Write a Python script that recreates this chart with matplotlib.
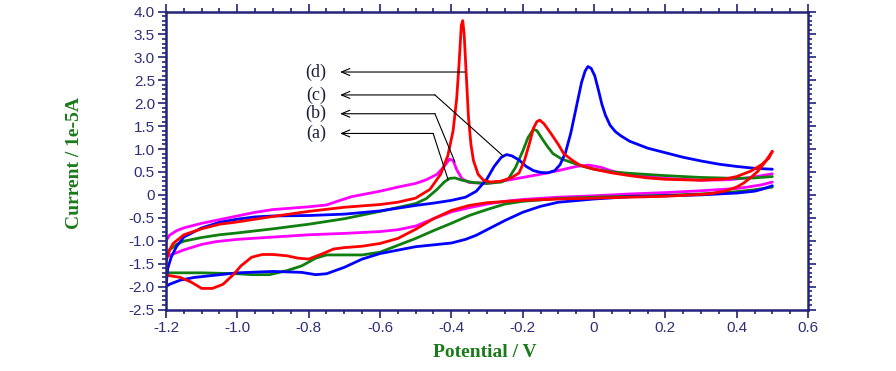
import numpy as np
import matplotlib
matplotlib.use("Agg")
import matplotlib.pyplot as plt
from matplotlib.ticker import MultipleLocator, FuncFormatter

# ---------------------------------------------------------------
# cyclic voltammograms, current in units of 1e-5 A
# each curve: forward (anodic) scan, then reverse (cathodic) scan
# ---------------------------------------------------------------

blue_fwd_v = [-1.2, -1.195, -1.185, -1.17, -1.15, -1.1, -1.05, -1.0, -0.95, -0.9, -0.8, -0.7,
              -0.6, -0.5, -0.45, -0.4, -0.36, -0.33, -0.3, -0.28, -0.26, -0.245, -0.23, -0.21,
              -0.19, -0.17, -0.15, -0.13, -0.11, -0.095, -0.08, -0.065, -0.05, -0.035, -0.025,
              -0.017, -0.008, 0.002, 0.012, 0.022, 0.032, 0.045, 0.06, 0.075, 0.1, 0.15, 0.2,
              0.25, 0.3, 0.35, 0.4, 0.45, 0.5]
blue_fwd_i = [-2.0, -1.6, -1.35, -1.12, -0.92, -0.72, -0.6, -0.53, -0.48, -0.46, -0.45, -0.42,
              -0.35, -0.23, -0.18, -0.12, -0.05, 0.08, 0.35, 0.62, 0.82, 0.88, 0.85, 0.76,
              0.62, 0.53, 0.49, 0.48, 0.53, 0.66, 0.92, 1.35, 1.9, 2.45, 2.7,
              2.8, 2.76, 2.6, 2.3, 1.98, 1.74, 1.52, 1.38, 1.29, 1.17, 1.02, 0.92,
              0.82, 0.74, 0.67, 0.62, 0.58, 0.56]
blue_rev_v = [0.5, 0.47, 0.45, 0.4, 0.3, 0.2, 0.1, 0.0, -0.1, -0.15, -0.2, -0.25, -0.28, -0.3,
              -0.33, -0.36, -0.4, -0.5, -0.6, -0.65, -0.7, -0.75, -0.78, -0.82, -0.9, -1.0,
              -1.06, -1.12, -1.16, -1.19, -1.2]
blue_rev_i = [0.2, 0.12, 0.08, 0.04, 0.0, -0.02, -0.04, -0.09, -0.16, -0.25, -0.38, -0.56, -0.68, -0.76,
              -0.88, -0.97, -1.05, -1.13, -1.28, -1.4, -1.58, -1.72, -1.74, -1.69, -1.67, -1.7,
              -1.75, -1.8, -1.86, -1.95, -2.0]

green_fwd_v = [-1.2, -1.2, -1.19, -1.17, -1.15, -1.1, -1.05, -1.0, -0.9, -0.8, -0.7, -0.6, -0.5,
               -0.47, -0.44, -0.42, -0.405, -0.39, -0.37, -0.34, -0.3, -0.26, -0.24, -0.22, -0.2,
               -0.185, -0.17, -0.16, -0.145, -0.13, -0.115, -0.09, -0.06, -0.03, 0.0, 0.05, 0.1,
               0.2, 0.3, 0.4, 0.45, 0.5]
green_fwd_i = [-1.7, -1.4, -1.2, -1.08, -1.01, -0.93, -0.87, -0.83, -0.74, -0.64, -0.52, -0.36, -0.19,
               -0.08, 0.12, 0.28, 0.36, 0.37, 0.32, 0.27, 0.25, 0.28, 0.35, 0.6, 0.95,
               1.25, 1.43, 1.4, 1.22, 1.05, 0.9, 0.78, 0.7, 0.62, 0.56, 0.5, 0.47,
               0.42, 0.38, 0.36, 0.37, 0.4]
green_rev_v = [0.5, 0.45, 0.4, 0.3, 0.2, 0.1, 0.0, -0.1, -0.15, -0.2, -0.25, -0.3, -0.35, -0.4,
               -0.45, -0.5, -0.55, -0.6, -0.65, -0.7, -0.75, -0.78, -0.82, -0.86, -0.91, -0.96,
               -1.0, -1.1, -1.2]
green_rev_i = [0.17, 0.11, 0.07, 0.02, -0.01, -0.03, -0.05, -0.08, -0.11, -0.14, -0.2, -0.32, -0.45, -0.62,
               -0.78, -0.95, -1.1, -1.25, -1.31, -1.31, -1.31, -1.38, -1.55, -1.65, -1.74, -1.74,
               -1.72, -1.7, -1.7]

red_fwd_v = [-1.2, -1.2, -1.19, -1.18, -1.15, -1.1, -1.05, -1.0, -0.95, -0.9, -0.8, -0.7, -0.6,
             -0.55, -0.5, -0.46, -0.43, -0.41, -0.395, -0.385, -0.378, -0.372, -0.368, -0.364,
             -0.358, -0.352, -0.345, -0.338, -0.325, -0.31, -0.29, -0.26, -0.23, -0.21, -0.195,
             -0.18, -0.17, -0.16, -0.152, -0.14, -0.12, -0.1, -0.085, -0.06, -0.04, 0.0, 0.05,
             0.1, 0.15, 0.2, 0.3, 0.37, 0.4, 0.44, 0.47, 0.49, 0.5]
red_fwd_i = [-1.75, -1.45, -1.2, -1.06, -0.87, -0.74, -0.64, -0.59, -0.53, -0.47, -0.36, -0.27, -0.21,
             -0.16, -0.07, 0.12, 0.45, 0.85, 1.4, 2.1, 2.9, 3.7, 3.8, 3.5,
             2.6, 1.7, 1.1, 0.75, 0.45, 0.32, 0.28, 0.3, 0.38, 0.48, 0.75,
             1.15, 1.45, 1.6, 1.63, 1.55, 1.33, 1.1, 0.9, 0.75, 0.65, 0.56, 0.48,
             0.42, 0.37, 0.34, 0.32, 0.35, 0.4, 0.52, 0.66, 0.8, 0.95]
red_rev_v = [0.5, 0.48, 0.46, 0.44, 0.42, 0.4, 0.37, 0.33, 0.3, 0.2, 0.1, 0.0, -0.1, -0.2, -0.3,
             -0.35, -0.4, -0.45, -0.5, -0.55, -0.6, -0.65, -0.7, -0.73, -0.76, -0.8, -0.83, -0.86,
             -0.9, -0.93, -0.96, -0.99, -1.01, -1.04, -1.07, -1.1, -1.13, -1.16, -1.2]
red_rev_i = [0.95, 0.72, 0.52, 0.38, 0.26, 0.17, 0.09, 0.03, 0.01, -0.03, -0.05, -0.07, -0.09, -0.12, -0.17,
             -0.23, -0.34, -0.52, -0.75, -0.95, -1.06, -1.12, -1.15, -1.18, -1.28, -1.4, -1.38, -1.33,
             -1.3, -1.3, -1.36, -1.55, -1.73, -1.95, -2.04, -2.04, -1.9, -1.8, -1.75]

magenta_fwd_v = [-1.2, -1.2, -1.19, -1.17, -1.15, -1.1, -1.05, -1.0, -0.95, -0.9, -0.8, -0.75, -0.72,
                 -0.68, -0.6, -0.55, -0.5, -0.47, -0.44, -0.42, -0.405, -0.395, -0.385, -0.37, -0.35,
                 -0.3, -0.25, -0.2, -0.15, -0.1, -0.05, -0.015, 0.02, 0.05, 0.1, 0.2, 0.3, 0.38,
                 0.44, 0.5]
magenta_fwd_i = [-1.35, -1.0, -0.88, -0.78, -0.72, -0.62, -0.54, -0.46, -0.38, -0.32, -0.26, -0.22, -0.14,
                 -0.04, 0.08, 0.17, 0.25, 0.33, 0.45, 0.62, 0.78, 0.75, 0.55, 0.35, 0.27,
                 0.25, 0.31, 0.38, 0.45, 0.53, 0.62, 0.65, 0.6, 0.52, 0.44, 0.36, 0.32, 0.33,
                 0.38, 0.46]
magenta_rev_v = [0.5, 0.47, 0.43, 0.4, 0.3, 0.2, 0.1, 0.0, -0.1, -0.2, -0.25, -0.3, -0.35, -0.4,
                 -0.45, -0.5, -0.55, -0.6, -0.7, -0.8, -0.9, -1.0, -1.06, -1.1, -1.15, -1.18, -1.2]
magenta_rev_i = [0.28, 0.22, 0.17, 0.14, 0.09, 0.05, 0.02, -0.02, -0.05, -0.1, -0.14, -0.2, -0.28, -0.37,
                 -0.52, -0.68, -0.76, -0.8, -0.84, -0.87, -0.92, -0.97, -1.02, -1.08, -1.2, -1.29, -1.35]

# curve labels with leader lines
labels = ["(d)", "(c)", "(b)", "(a)"]
label_y = [2.68, 2.18, 1.77, 1.34]
arrow_x = [-0.362, -0.446, -0.446, -0.451]
leader_end = [None, (-0.255, 0.85), (-0.39, 0.72), (-0.409, 0.33)]

x_ticks = np.arange(-1.2, 0.61, 0.2)
y_ticks = np.arange(-2.5, 4.01, 0.5)

NAVY = "#23237a"
TICK_TXT = "#2e2e78"
GREEN_TXT = "#1b7a1b"

# ---------------------------------------------------------------
fig = plt.figure(figsize=(8.96, 3.71), dpi=100)
ax = fig.add_axes([166 / 896, 1 - 309.5 / 371, 642 / 896, 298 / 371])

lw = 2.0
curves = [
    (magenta_fwd_v, magenta_fwd_i, magenta_rev_v, magenta_rev_i, "#ff00ff"),
    (green_fwd_v, green_fwd_i, green_rev_v, green_rev_i, "#0f7f0f"),
    (blue_fwd_v, blue_fwd_i, blue_rev_v, blue_rev_i, "#0000ff"),
    (red_fwd_v, red_fwd_i, red_rev_v, red_rev_i, "#ff0000"),
]
for fv, fi, rv, ri, col in curves:
    ax.plot(fv, fi, color=col, lw=lw, solid_joinstyle="round", solid_capstyle="round")
    ax.plot(rv, ri, color=col, lw=lw, solid_joinstyle="round", solid_capstyle="round")

# annotations
for lab, ly, ax0, end in zip(labels, label_y, arrow_x, leader_end):
    ax.annotate("", xy=(-0.712, ly), xytext=(ax0, ly),
                arrowprops=dict(arrowstyle="->,head_length=0.6,head_width=0.25",
                                color="black", lw=0.8, shrinkA=0, shrinkB=0))
    if end is not None:
        ax.plot([ax0, end[0]], [ly, end[1]], color="black", lw=0.8)
    ax.text(-0.78, ly, lab, fontsize=13, family="Liberation Serif",
            color="#1e1e3c", ha="center", va="center")

ax.set_xlim(-1.2, 0.6)
ax.set_ylim(-2.5, 4.0)
ax.set_xticks(x_ticks)
ax.set_yticks(y_ticks)
ax.xaxis.set_minor_locator(MultipleLocator(0.05))
ax.yaxis.set_minor_locator(MultipleLocator(0.1))

fmt = FuncFormatter(lambda v, p: "0" if abs(v) < 1e-9 else f"{v:.1f}")
ax.xaxis.set_major_formatter(fmt)
ax.yaxis.set_major_formatter(fmt)

ax.tick_params(which="both", direction="out", top=True, right=True,
               color=NAVY, width=1.2, labelcolor=TICK_TXT, labelsize=11)
ax.tick_params(which="major", length=6, pad=2)
ax.tick_params(which="minor", length=3)
for lbl in ax.get_xticklabels() + ax.get_yticklabels():
    lbl.set_family("Liberation Sans")

for sp in ax.spines.values():
    sp.set_color(NAVY)
    sp.set_linewidth(1.8)

ax.set_xlabel("Potential / V", fontsize=14, fontweight="bold",
              family="Liberation Serif", color=GREEN_TXT)
ax.set_ylabel("Current / 1e-5A", fontsize=14, fontweight="bold",
              family="Liberation Serif", color=GREEN_TXT, va="center")
ax.xaxis.set_label_coords(0.497, -0.115)
ax.yaxis.set_label_coords(-0.142, 0.49)

fig.savefig("out.png", dpi=100, facecolor="white")
